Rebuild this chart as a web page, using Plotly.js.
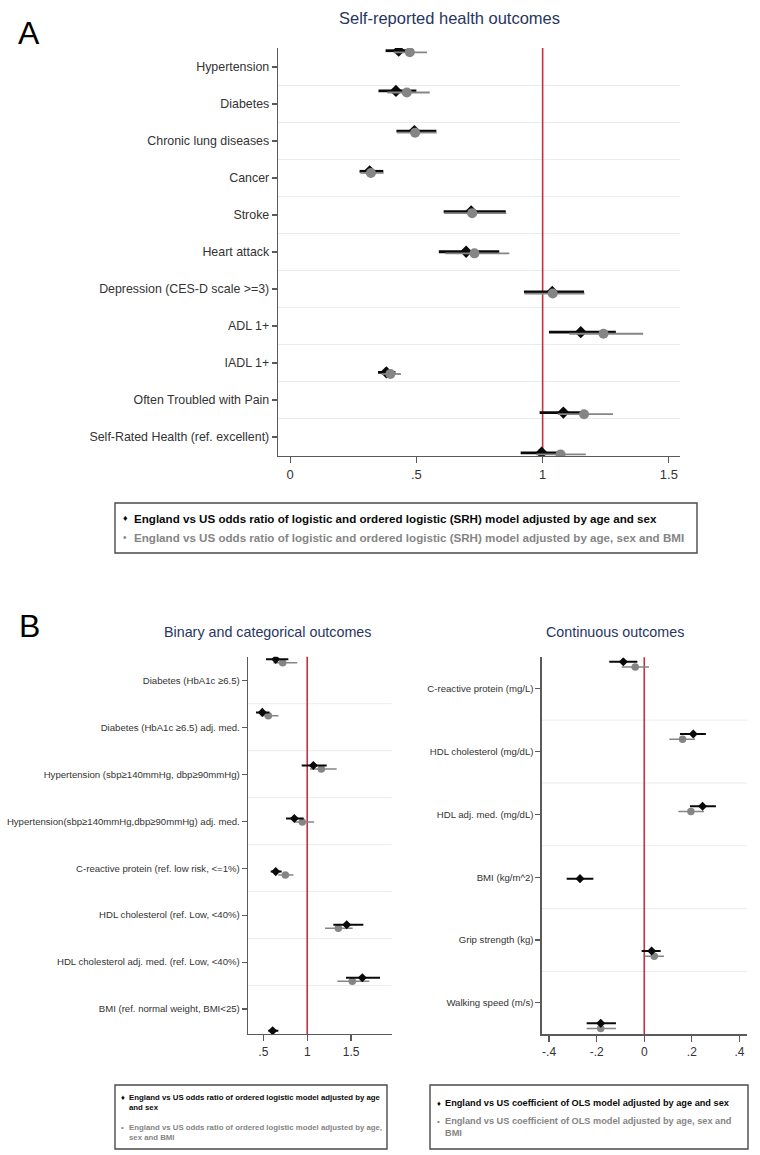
<!DOCTYPE html>
<html><head><meta charset="utf-8">
<script src="https://cdn.plot.ly/plotly-3.0.1.min.js"></script>
<style>html,body{margin:0;padding:0;background:#fff}#chart{width:760px;height:1155px}</style>
</head><body><div id="chart"></div>
<script>
// ---------------- DATA ----------------
// Panel A: self-reported health outcomes (odds ratios)
const catsA = ['Hypertension','Diabetes','Chronic lung diseases','Cancer','Stroke','Heart attack',
  'Depression (CES-D scale >=3)','ADL 1+','IADL 1+','Often Troubled with Pain','Self-Rated Health (ref. excellent)'];
// age & sex adjusted (black)
const aEst1 = [0.430,0.419,0.492,0.315,0.717,0.697,1.038,1.151,0.381,1.082,0.996];
const aLo1  = [0.378,0.350,0.421,0.275,0.608,0.589,0.926,1.025,0.348,0.988,0.913];
const aHi1  = [0.490,0.500,0.579,0.369,0.854,0.828,1.164,1.290,0.417,1.157,1.075];
// age, sex & BMI adjusted (gray)
const aEst2 = [0.474,0.462,0.495,0.320,0.721,0.730,1.040,1.241,0.397,1.164,1.071];
const aLo2  = [0.410,0.385,0.423,0.278,0.610,0.615,0.928,1.105,0.362,1.060,0.975];
const aHi2  = [0.542,0.553,0.580,0.370,0.856,0.868,1.166,1.398,0.439,1.279,1.171];

// Panel B left: binary and categorical outcomes (odds ratios)
const catsB1 = ['Diabetes (HbA1c ≥6.5)','Diabetes (HbA1c ≥6.5) adj. med.','Hypertension (sbp≥140mmHg, dbp≥90mmHg)',
  'Hypertension(sbp≥140mmHg,dbp≥90mmHg) adj. med.','C-reactive protein (ref. low risk, &lt;=1%)',
  'HDL cholesterol (ref. Low, &lt;40%)','HDL cholesterol adj. med. (ref. Low, &lt;40%)','BMI (ref. normal weight, BMI&lt;25)'];
const b1Est1 = [0.641,0.488,1.070,0.853,0.641,1.450,1.628,0.606];
const b1Lo1  = [0.530,0.416,0.937,0.758,0.584,1.298,1.442,0.557];
const b1Hi1  = [0.785,0.570,1.222,0.960,0.709,1.640,1.830,0.671];
const b1Est2 = [0.720,0.557,1.161,0.944,0.751,1.355,1.514,null];
const b1Lo2  = [0.614,0.470,1.032,0.860,0.671,1.203,1.343,null];
const b1Hi2  = [0.887,0.671,1.336,1.078,0.842,1.518,1.708,null];

// Panel B right: continuous outcomes (OLS coefficients)
const catsB2 = ['C-reactive protein (mg/L)','HDL cholesterol (mg/dL)','HDL adj. med. (mg/dL)',
  'BMI (kg/m^2)','Grip strength (kg)','Walking speed (m/s)'];
const b2Est1 = [-0.088,0.206,0.245,-0.270,0.031,-0.183];
const b2Lo1  = [-0.147,0.150,0.192,-0.326,-0.011,-0.242];
const b2Hi1  = [-0.029,0.259,0.301,-0.214,0.069,-0.119];
const b2Est2 = [-0.038,0.161,0.196,null,0.042,-0.183];
const b2Lo2  = [-0.095,0.105,0.143,null,0.003,-0.242];
const b2Hi2  = [0.020,0.213,0.251,null,0.083,-0.119];

// tick labels
const ticksA = [0,0.5,1,1.5], tickTextA = ['0','.5','1','1.5'];
const ticksB1 = [0.5,1,1.5], tickTextB1 = ['.5','1','1.5'];
const ticksB2 = [-0.4,-0.2,0,0.2,0.4], tickTextB2 = ['-.4','-.2','0','.2','.4'];
const refA = 1, refB1 = 1, refB2 = 0;

// legend / title texts
const titleA = 'Self-reported health outcomes';
const titleB1 = 'Binary and categorical outcomes';
const titleB2 = 'Continuous outcomes';
const legA1 = 'England vs US odds ratio of logistic and ordered logistic (SRH) model adjusted by age and sex';
const legA2 = 'England vs US odds ratio of logistic and ordered logistic (SRH) model adjusted by age, sex and BMI';
const legB1a = 'England vs US odds ratio of ordered logistic model adjusted by age<br>and sex';
const legB1b = 'England vs US odds ratio of ordered logistic model adjusted by age,<br>sex and BMI';
const legB2a = 'England vs US coefficient of OLS model adjusted by age and sex';
const legB2b = 'England vs US coefficient of OLS model adjusted by age, sex and<br>BMI';

// ---------------- HELPERS ----------------
const W = 760, H = 1155;
const px = x => x / W, py = y => 1 - y / H;
const FONT = 'Liberation Sans, Arial, sans-serif';
const BLACK = '#0a0a0a', GRAY = '#858585', AXIS = '#5a5a5a', GRID = '#e6edf0', RED = '#c3303f';

function hasFont(name) {
  const c = document.createElement('canvas').getContext('2d');
  const s = 'England vs US odds ratio of ordered logistic';
  c.font = '40px monospace'; const w0 = c.measureText(s).width;
  c.font = '40px "' + name + '", monospace'; const w1 = c.measureText(s).width;
  return Math.abs(w1 - w0) > 1;
}
const NARROW = hasFont('Liberation Sans Narrow');
const legB1Font = NARROW ? {family: 'Liberation Sans Narrow, Liberation Sans, sans-serif', size: 9.4}
                         : {family: FONT, size: 7.8};

function series(est, lo, hi, xa, ya, off, sym, size, color, thick) {
  return {
    type: 'scatter', mode: 'markers', xaxis: xa, yaxis: ya, hoverinfo: 'skip', showlegend: false,
    x: est, y: est.map((_, i) => i + off),
    marker: {symbol: sym, size: size, color: color, line: {width: 0}},
    error_x: {type: 'data', symmetric: false, width: 0, thickness: thick, color: color,
      array: est.map((v, i) => v == null ? null : hi[i] - v),
      arrayminus: est.map((v, i) => v == null ? null : v - lo[i])}
  };
}

const traces = [
  series(aEst1, aLo1, aHi1, 'x', 'y2', 0, 'diamond', 9.5, BLACK, 2.8),
  series(aEst2, aLo2, aHi2, 'x', 'y2', 0.04, 'circle', 10, GRAY, 1.8),
  series(b1Est2, b1Lo2, b1Hi2, 'x2', 'y4', 0.065, 'circle', 7.5, GRAY, 1.5),
  series(b1Est1, b1Lo1, b1Hi1, 'x2', 'y4', 0, 'diamond', 7, BLACK, 2),
  series(b2Est2, b2Lo2, b2Hi2, 'x3', 'y6', 0.073, 'circle', 7.5, GRAY, 1.5),
  series(b2Est1, b2Lo1, b2Hi1, 'x3', 'y6', 0, 'diamond', 7, BLACK, 2)
];

function xAxis(dom, range, anchor, tv, tt, fs) {
  return {domain: dom, range: range, anchor: anchor, tickmode: 'array', tickvals: tv, ticktext: tt,
    showline: true, linecolor: AXIS, linewidth: 1.3, ticks: 'outside', ticklen: 6, tickcolor: AXIS, tickwidth: 1.2,
    tickfont: {family: FONT, size: fs, color: '#333'}, showgrid: false, zeroline: false};
}
function yAxis(dom, range, anchor, cats, fs) {
  return {domain: dom, range: range, anchor: anchor, tickmode: 'array',
    tickvals: cats.map((_, i) => i), ticktext: cats,
    showline: true, linecolor: AXIS, linewidth: 1.3, ticks: 'outside', ticklen: 5, tickcolor: AXIS, tickwidth: 1.2,
    tickfont: {family: FONT, size: fs, color: '#333'}, showgrid: false, zeroline: false};
}
function yOver(over, anchor, range) {
  return {overlaying: over, anchor: anchor, range: range, visible: false,
    showgrid: false, zeroline: false, showline: false, showticklabels: false, ticks: ''};
}
function refLine(xa, ya, v) {
  return {type: 'line', xref: xa, yref: ya + ' domain', x0: v, x1: v, y0: 0, y1: 1,
    line: {color: RED, width: 1.6}, layer: 'below'};
}
function gridLines(xa, ya, cats) {
  return cats.slice(1).map((_, i) => ({type: 'line', xref: xa + ' domain', yref: ya, x0: 0, x1: 1,
    y0: i + 0.5, y1: i + 0.5, line: {color: GRID, width: 1}, layer: 'below'}));
}
function box(x0, y0, x1, y1) {
  return {type: 'rect', xref: 'paper', yref: 'paper', x0: px(x0), x1: px(x1), y0: py(y1), y1: py(y0),
    line: {color: '#4a4a4a', width: 1.4}, fillcolor: 'rgba(0,0,0,0)'};
}
function txt(x, y, text, size, color, opts) {
  return Object.assign({xref: 'paper', yref: 'paper', x: px(x), y: py(y), text: text, showarrow: false,
    xanchor: 'left', yanchor: 'middle', align: 'left', font: {family: FONT, size: size, color: color}}, opts || {});
}

const layout = {
  width: W, height: H, margin: {l: 0, r: 0, t: 0, b: 0},
  paper_bgcolor: '#fff', plot_bgcolor: '#fff', showlegend: false,
  font: {family: FONT},
  xaxis: xAxis([px(278), px(680)], [-0.048, 1.544], 'y', ticksA, tickTextA, 13),
  yaxis: yAxis([py(456), py(48)], [10.514, -0.514], 'x', catsA, 12.4),
  yaxis2: yOver('y', 'x', [10.08, -0.067]),
  xaxis2: xAxis([px(248), px(391.7)], [0.325, 1.963], 'y3', ticksB1, tickTextB1, 12),
  yaxis3: yAxis([py(1034), py(656.7)], [7.53, -0.5], 'x2', catsB1, 9.6),
  yaxis4: yOver('y3', 'x2', [7.06, -0.05]),
  xaxis3: xAxis([px(541.7), px(747.3)], [-0.431, 0.433], 'y5', ticksB2, tickTextB2, 12),
  yaxis5: yAxis([py(1034.3), py(657.3)], [5.5, -0.5], 'x3', catsB2, 9.6),
  yaxis6: yOver('y5', 'x3', [5.153, -0.061]),
  shapes: [].concat(
    gridLines('x', 'y', catsA), gridLines('x2', 'y3', catsB1), gridLines('x3', 'y5', catsB2),
    [refLine('x', 'y', refA), refLine('x2', 'y3', refB1), refLine('x3', 'y5', refB2),
     box(115, 503, 697, 553), box(115, 1085, 387, 1149), box(430, 1085, 748, 1149)]
  ),
  annotations: [
    txt(29, 33, 'A', 32, '#000', {xanchor: 'center'}),
    txt(29, 626, 'B', 32, '#000', {xanchor: 'center'}),
    txt(450, 18, titleA, 16.5, '#28365f', {xanchor: 'center'}),
    txt(267, 632, titleB1, 14.3, '#28365f', {xanchor: 'center'}),
    txt(615, 632, titleB2, 14.3, '#28365f', {xanchor: 'center'}),
    // legend A
    txt(121, 518, '♦', 9, BLACK),
    txt(132, 518, '<b>' + legA1 + '</b>', 11.6, BLACK),
    txt(121, 537, '•', 10, GRAY),
    txt(132, 537, '<b>' + legA2 + '</b>', 11.6, GRAY),
    // legend B left
    txt(119, 1097, '♦', 7.5, BLACK),
    Object.assign(txt(127, 1102, '<b>' + legB1a + '</b>', 9, BLACK), {font: Object.assign({color: BLACK}, legB1Font)}),
    txt(119, 1127, '•', 8, GRAY),
    Object.assign(txt(127, 1132, '<b>' + legB1b + '</b>', 9, GRAY), {font: Object.assign({color: GRAY}, legB1Font)}),
    // legend B right
    txt(435, 1103, '♦', 7.5, BLACK),
    txt(443, 1103, '<b>' + legB2a + '</b>', 9.2, BLACK),
    txt(435, 1121, '•', 8, GRAY),
    txt(443, 1127, '<b>' + legB2b + '</b>', 9.2, GRAY)
  ]
};

Plotly.newPlot('chart', traces, layout, {staticPlot: true, displayModeBar: false});
</script>
</body></html>
